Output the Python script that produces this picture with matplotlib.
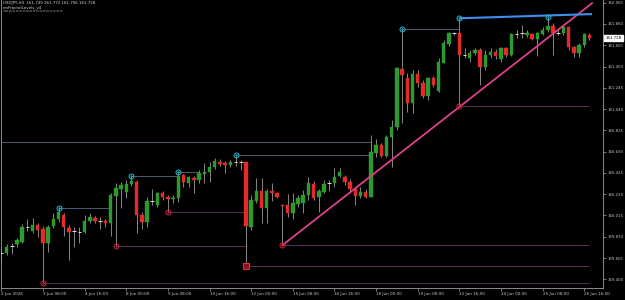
import numpy as np
import matplotlib
matplotlib.use("Agg")
import matplotlib.pyplot as plt
import matplotlib.transforms as mtransforms

# USDJPY H4 candles, bar 0 = 2 Jun 2026 00:00
opens = [159.652, 159.657, 159.720, 159.737, 159.762, 159.901, 159.868, 159.926, 159.885, 159.747,
         159.914, 159.978, 160.017, 159.894, 159.860, 159.863, 159.856, 159.959, 159.994, 159.962,
         159.962, 159.940, 160.206, 160.273, 160.244, 160.318, 160.341, 160.020, 159.955, 160.155,
         160.116, 160.235, 160.190, 160.171, 160.181, 160.405, 160.331, 160.379, 160.357, 160.415,
         160.431, 160.479, 160.533, 160.518, 160.501, 160.526, 160.530, 160.527, 159.907, 160.158,
         160.254, 160.084, 160.251, 160.229, 160.116, 160.116, 160.042, 160.126, 160.132, 160.212,
         160.318, 160.190, 160.244, 160.320, 160.325, 160.395, 160.389, 160.341, 160.267, 160.203,
         160.244, 160.196, 160.620, 160.694, 160.588, 160.768, 160.870, 161.423, 161.337, 161.102,
         161.378, 161.289, 161.166, 161.337, 161.217, 161.487, 161.667, 161.772, 161.776, 161.561,
         161.529, 161.578, 161.609, 161.443, 161.561, 161.593, 161.520, 161.626, 161.561, 161.763,
         161.766, 161.754, 161.763, 161.712, 161.763, 161.802, 161.841, 161.772, 161.776, 161.834,
         161.635, 161.583, 161.657, 161.749]
highs = [159.709, 159.737, 159.747, 159.795, 159.933, 159.984, 159.988, 159.940, 159.914, 159.923,
         160.036, 160.084, 160.040, 159.923, 159.901, 159.907, 160.020, 160.036, 160.010, 159.998,
         159.978, 160.229, 160.331, 160.341, 160.357, 160.395, 160.357, 160.052, 160.196, 160.267,
         160.244, 160.254, 160.212, 160.212, 160.425, 160.412, 160.395, 160.395, 160.453, 160.524,
         160.533, 160.566, 160.556, 160.543, 160.550, 160.588, 160.550, 160.533, 160.212, 160.373,
         160.373, 160.267, 160.325, 160.244, 160.126, 160.222, 160.229, 160.212, 160.261, 160.389,
         160.350, 160.267, 160.357, 160.357, 160.470, 160.470, 160.405, 160.364, 160.292, 160.287,
         160.267, 160.790, 160.750, 160.710, 160.790, 160.935, 161.448, 161.809, 161.385, 161.417,
         161.417, 161.320, 161.352, 161.359, 161.529, 161.706, 161.786, 161.786, 161.908, 161.626,
         161.609, 161.626, 161.629, 161.609, 161.629, 161.619, 161.641, 161.641, 161.776, 161.802,
         161.850, 161.802, 161.776, 161.786, 161.828, 161.927, 161.867, 161.802, 161.850, 161.841,
         161.648, 161.674, 161.776, 161.772]
lows = [159.570, 159.634, 159.644, 159.714, 159.747, 159.866, 159.843, 159.805, 159.362, 159.666,
        159.892, 159.955, 159.817, 159.586, 159.714, 159.747, 159.843, 159.940, 159.940, 159.882,
        159.901, 159.817, 159.721, 160.084, 160.181, 160.299, 159.843, 159.882, 159.901, 160.116,
        160.100, 160.164, 160.052, 160.138, 160.148, 160.292, 160.292, 160.229, 160.325, 160.325,
        160.341, 160.460, 160.492, 160.421, 160.485, 160.492, 160.453, 159.538, 159.875, 160.132,
        159.946, 159.946, 160.158, 160.181, 159.731, 159.998, 159.978, 160.100, 160.036, 160.164,
        160.164, 160.052, 160.229, 160.254, 160.292, 160.389, 160.309, 160.229, 160.116, 160.181,
        160.181, 160.190, 160.581, 160.576, 160.581, 160.485, 160.839, 160.903, 161.015, 160.999,
        161.256, 161.144, 161.128, 161.256, 161.208, 161.481, 161.648, 161.754, 161.070, 161.529,
        161.497, 161.561, 161.272, 161.417, 161.532, 161.523, 161.497, 161.545, 161.551, 161.722,
        161.725, 161.737, 161.706, 161.551, 161.754, 161.786, 161.561, 161.754, 161.754, 161.609,
        161.539, 161.539, 161.635, 161.706]
closes = [159.656, 159.714, 159.724, 159.779, 159.901, 159.903, 159.926, 159.875, 159.747, 159.907,
          159.978, 160.052, 159.901, 159.856, 159.863, 159.860, 159.965, 160.003, 159.959, 159.965,
          159.940, 160.212, 160.277, 160.309, 160.318, 160.350, 160.020, 159.955, 160.155, 160.158,
          160.229, 160.190, 160.171, 160.181, 160.395, 160.341, 160.383, 160.357, 160.421, 160.437,
          160.485, 160.543, 160.511, 160.504, 160.533, 160.530, 160.527, 159.917, 160.164, 160.251,
          160.084, 160.251, 160.229, 160.196, 160.102, 160.042, 160.138, 160.181, 160.212, 160.325,
          160.181, 160.251, 160.318, 160.324, 160.389, 160.431, 160.341, 160.267, 160.203, 160.244,
          160.196, 160.630, 160.694, 160.588, 160.774, 160.870, 161.433, 161.368, 161.102, 161.378,
          161.289, 161.166, 161.337, 161.272, 161.497, 161.674, 161.770, 161.776, 161.561, 161.565,
          161.578, 161.609, 161.443, 161.561, 161.593, 161.551, 161.626, 161.561, 161.763, 161.766,
          161.770, 161.776, 161.712, 161.770, 161.802, 161.841, 161.770, 161.776, 161.834, 161.635,
          161.583, 161.657, 161.763, 161.728]

tick_bars = [0, 8, 16, 24, 32, 40, 48, 56, 64, 72, 80, 88, 96, 104, 112]
tick_labels = ["2 Jun 2026", "3 Jun 08:00", "4 Jun 16:00", "8 Jun 00:00", "9 Jun 08:00",
               "10 Jun 16:00", "12 Jun 00:00", "15 Jun 08:00", "16 Jun 16:00", "18 Jun 00:00",
               "19 Jun 08:00", "22 Jun 16:00", "24 Jun 00:00", "25 Jun 08:00", "26 Jun 16:00"]
price_ticks = [162.065, 161.860, 161.655, 161.450, 161.245, 161.040, 160.835,
               160.630, 160.425, 160.220, 160.015, 159.810, 159.605, 159.400]

# fractal levels: (start bar, end bar, price)
upper_levels = [(0, 71, 160.720), (11, 21, 160.084), (25, 34, 160.395), (34, 38, 160.437),
                (45, 71, 160.595), (77, 88, 161.809)]
upper_marks = [(11, 160.084), (25, 160.395), (34, 160.437), (45, 160.595), (77, 161.809),
               (88, 161.915), (105, 161.930)]
lower_levels = [(8, 113, 159.362), (22, 47, 159.721), (32, 47, 160.049), (47, 113, 159.528),
                (54, 113, 159.728), (88, 113, 161.070)]
lower_marks = [(8, 159.362), (22, 159.721), (32, 160.049), (54, 159.728), (88, 161.070)]
big_low = (47, 159.528)

trend_pts = ([54, 113.5], [159.728, 162.060])
resist_pts = ([88.2, 113.3], [161.915, 161.955])

last_price = 161.728
header = "USDJPY,H4  161.749 161.772 161.706 161.728\nsmFractalLevels_v4\n=================="

fig = plt.figure(figsize=(6.25, 3.0), dpi=100, facecolor="black")
ax = fig.add_axes([0.0016, 0.04, 0.9632, 0.96])
ax.set_facecolor("black")

bull = "#2c9a2c"
bear = "#e52a2a"
wick = "#9c9c9c"
for i in range(len(opens)):
    o, h, l, c = opens[i], highs[i], lows[i], closes[i]
    ax.vlines(i, l, h, color=wick, lw=0.6, zorder=2)
    if abs(c - o) < 0.005:
        ax.hlines(c, i - 0.35, i + 0.35, color="#e0e0e0", lw=0.7, zorder=3)
    else:
        col = bull if c > o else bear
        ax.bar(i, abs(c - o), bottom=min(o, c), width=0.66, color=col,
               edgecolor=col, lw=0.3, zorder=3)

for s, e, p in upper_levels:
    ax.hlines(p, s, e, color="#4e5874", lw=0.7, zorder=1)
for s, e, p in lower_levels:
    ax.hlines(p, s, e, color="#5e2c5a", lw=0.7, zorder=1)

ux = [m[0] for m in upper_marks]
uy = [m[1] for m in upper_marks]
ax.plot(ux, uy, "o", ms=3.6, mfc="none", mec="#2ab4c8", mew=0.7, zorder=5)
ax.plot(ux, uy, ".", ms=1.2, color="#2ab4c8", zorder=5)
lx = [m[0] for m in lower_marks]
ly = [m[1] for m in lower_marks]
ax.plot(lx, ly, "o", ms=3.6, mfc="none", mec="#c8283c", mew=0.7, zorder=5)
ax.plot(lx, ly, ".", ms=1.2, color="#c8283c", zorder=5)
ax.plot(big_low[0], big_low[1], "s", ms=5, mfc="#8a1020", mec="#e03040", mew=0.8, zorder=5)

ax.plot(trend_pts[0], trend_pts[1], color="#e0408a", lw=1.3, zorder=4)
ax.plot(resist_pts[0], resist_pts[1], color="#3f8ff0", lw=1.5, zorder=4)

ax.set_xlim(-0.06, 115.6)
ax.set_ylim(159.316, 162.091)

ax.set_xticks(tick_bars)
ax.set_xticklabels(tick_labels, ha="left", fontsize=3.0, color="#c8c8c8")
ax.yaxis.tick_right()
ax.set_yticks(price_ticks)
ax.set_yticklabels([f"{p:.3f}" for p in price_ticks], fontsize=2.8, color="#c8c8c8")
ax.tick_params(axis="both", colors="#a0a0a0", length=2, width=0.5, pad=1.2,
               labelcolor="#c8c8c8")
for side in ["right", "bottom", "left"]:
    ax.spines[side].set_color("#a0a0a0")
    ax.spines[side].set_linewidth(0.6)
ax.spines["top"].set_visible(False)

tr = mtransforms.blended_transform_factory(ax.transAxes, ax.transData)
ax.text(1.004, last_price, f"{last_price:.3f}", transform=tr, fontsize=2.8, color="black",
        va="center", ha="left",
        bbox=dict(boxstyle="square,pad=0.25", fc="white", ec="white"), zorder=10)

ax.text(0.003, 0.997, header, transform=ax.transAxes, va="top", ha="left",
        fontsize=2.9, color="#d8d8d8", linespacing=1.1)

fig.savefig("out.png", dpi=100, facecolor="black")
